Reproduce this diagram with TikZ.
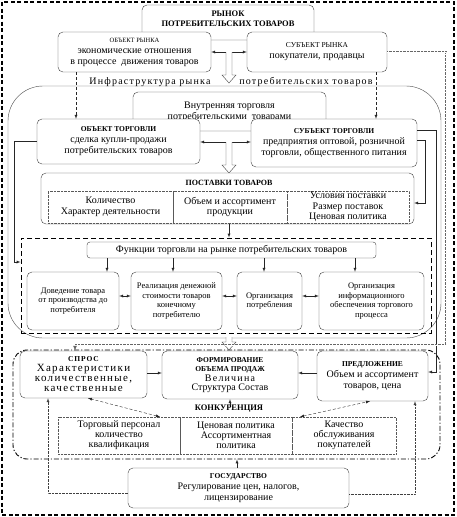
\documentclass[tikz,border=0pt]{standalone}
\usepackage{fontspec}
\setmainfont{Liberation Serif}
\newfontfamily\spacedfont[LetterSpace=12]{Liberation Serif}
\newcommand{\hd}[1]{{\bfseries\fontsize{7.5}{9}\selectfont #1}}

\tikzset {
  box style/.style = {
    draw=black!75,
    rounded corners=5pt,
    fill=white,
    align=center,
    inner sep=1pt,
    font=\fontsize{10}{11}\selectfont
  },
  func style/.style = {
    box style,
    font=\fontsize{8.5}{9.5}\selectfont
  },
  cell style/.style = {
    draw=black!65,
    densely dotted,
    align=center,
    inner sep=1pt,
    font=\fontsize{10}{10.5}\selectfont
  },
  head/.style = {font=\bfseries\fontsize{8}{9}\selectfont, align=center, inner sep=0pt},
  region style/.style = {draw=black!70, rounded corners=35pt},
  frame style/.style = {draw=black, line width=1pt, dash pattern=on 5pt off 3pt},
  ring style/.style = {draw=black, line width=0.9pt, rounded corners=14pt,
    dash pattern=on 5pt off 2pt on 1.2pt off 2pt},
  link/.style = {draw=black!85, -latex},
  both link/.style = {draw=black!85, latex-latex},
  dash link/.style = {draw=black!85, densely dashed, -latex},
  dash both/.style = {draw=black!85, densely dashed, latex-latex},
  dot link/.style = {draw=black!75, densely dotted, -latex},
  double link/.style = {draw=black!60, densely dotted, double=white, double distance=1pt, -latex},
  pics/hollow arrow/.style = {
    code = {
      \filldraw[draw=black!75, fill=white]
        (-3,0) -- (-3,#1-8) -- (-7,#1-8) -- (0,#1) -- (7,#1-8) -- (3,#1-8) -- (3,0);
    }
  }
}

\begin{document}
\begin{tikzpicture}[x=1pt, y=-1pt]

\useasboundingbox (0,0) rectangle (456,517);

% --- Outer frame ---
\draw[line width=1.3pt, dash pattern=on 4pt off 2.5pt] (2,2) rectangle (454,515);


% --- Market level ---
\node[box style, minimum width=172pt, minimum height=35pt] (market) at (228,22.5) {};
\node[head, font=\bfseries\fontsize{8.5}{10}\selectfont] (marketT) at (228,19)
  {РЫНОК\\ПОТРЕБИТЕЛЬСКИХ ТОВАРОВ};

\node[box style, minimum width=153pt, minimum height=40pt] (objM) at (134.5,52)
  {{\fontsize{6.5}{8}\selectfont ОБЪЕКТ РЫНКА}\\экономические отношения\\в процессе\ \ движения товаров};
\node[box style, minimum width=140pt, minimum height=40pt] (subjM) at (317,52)
  {{\fontsize{7.5}{9}\selectfont СУБЪЕКТ РЫНКА}\\покупатели, продавцы};

\draw[both link] (objM.east) -- (subjM.west);
\pic at (229,52) {hollow arrow=31};


% --- Infrastructure ---
\node[region style, minimum width=433pt, minimum height=252pt] (infra) at (224.5,212) {};
\node[font=\spacedfont\fontsize{10}{11}\selectfont, anchor=base, inner sep=0pt] (infraL) at (150,84)
  {Инфраструктура рынка};
\node[font=\spacedfont\fontsize{10}{11}\selectfont, anchor=base, inner sep=0pt] (infraR) at (306,84)
  {потребительских товаров};

\node[box style, minimum width=193pt, minimum height=39pt] (inner) at (229.5,111.5)
  {Внутренняя торговля\\потребительскими\ \ товарами};
\node[box style, minimum width=163pt, minimum height=45pt] (objT) at (118.5,141.5)
  {\hd{ОБЪЕКТ ТОРГОВЛИ}\\сделка купли-продажи\\потребительских товаров};
\node[box style, minimum width=166pt, minimum height=48pt] (subjT) at (334,143)
  {\hd{СУБЪЕКТ ТОРГОВЛИ}\\предприятия оптовой, розничной\\торговли, общественного питания};

\draw[dash link] (objM.south -| 76,0) -- (objT.north -| 76,0);
\draw[dash link] (subjM.south -| 376,0) -- (subjT.north -| 376,0);
\draw[both link] (objT.east |- 0,142) -- (subjT.west |- 0,142);
\pic at (229,142) {hollow arrow=31};


% --- Supply of goods ---
\node[box style, minimum width=373pt, minimum height=51pt] (supply) at (227.5,198.5) {};
\node[head] (supplyT) at (229,183) {ПОСТАВКИ ТОВАРОВ};
\node[cell style, minimum width=125pt, minimum height=32pt] (sup1) at (110.5,207)
  {Количество\\Характер деятельности};
\node[cell style, minimum width=114pt, minimum height=32pt] (sup2) at (230,207)
  {Объем и ассортимент\\продукции};
\node[cell style, minimum width=122pt, minimum height=32pt] (sup3) at (348,207)
  {Условия поставки\\Размер поставок\\Ценовая политика};


% --- Trade functions ---
\node[frame style, minimum width=410pt, minimum height=95pt] (funcs) at (226,285.5) {};
\node[box style, rounded corners=3pt, minimum width=289pt, minimum height=16pt] (fTitle) at (231.5,250)
  {Функции торговли на рынке потребительских товаров};

\node[func style, minimum width=92pt, minimum height=58pt] (f1) at (73,301)
  {Доведение товара\\от производства до\\потребителя};
\node[func style, minimum width=91pt, minimum height=58pt] (f2) at (176.5,301)
  {Реализация денежной\\стоимости товаров\\конечному\\потребителю};
\node[func style, minimum width=65pt, minimum height=58pt] (f3) at (269.5,301)
  {Организация\\потребления};
\node[func style, minimum width=105pt, minimum height=58pt] (f4) at (371.5,301)
  {Организация\\информационного\\обеспечения торгового\\процесса};

\foreach \fx/\fb in {107/f1, 173/f2, 264/f3, 355/f4}
  \draw[link] (\fx,0 |- fTitle.south) -- (\fx,0 |- \fb.north);
\draw[both link] (f1.east |- 0,296) -- (f2.west |- 0,296);
\draw[both link] (f2.east |- 0,296) -- (f3.west |- 0,296);
\draw[both link] (f3.east |- 0,296) -- (f4.west |- 0,296);

\draw[link] (supply.south -| 229,0) -- (funcs.north -| 229,0);
\draw[link] (subjT.east |- 0,140) -- (425,140) |- (supply.east |- 0,203);
\draw[link] (objT.west) -- (14,141.5) |- (funcs.west |- 0,262);


% --- Sales volume and competition ---
\node[ring style, minimum width=427pt, minimum height=109pt] (compReg) at (226.5,404.5) {};
\pic at (229,337) {hollow arrow=13};

\node[box style, minimum width=127pt, minimum height=47pt, font=\spacedfont\fontsize{11}{10}\selectfont] (demand) at (83.5,374.5)
  {\hd{СПРОС}\\Характеристики\\количественные,\\качественные};
\node[box style, minimum width=136pt, minimum height=48pt, font=\fontsize{10}{9.5}\selectfont] (form) at (230,375)
  {\hd{ФОРМИРОВАНИЕ}\\\hd{ОБЪЕМА ПРОДАЖ}\\{\spacedfont Величина}\\Структура Состав};
\node[box style, minimum width=111pt, minimum height=50pt] (offer) at (372.5,376)
  {\hd{ПРЕДЛОЖЕНИЕ}\\Объем и ассортимент\\товаров, цена};

\node[head, font=\bfseries\fontsize{8.5}{10}\selectfont] (compT) at (229,409) {КОНКУРЕНЦИЯ};
\node[cell style, font=\fontsize{10}{10}\selectfont, minimum width=122pt, minimum height=37pt] (comp1) at (119,435.5)
  {Торговый персонал\\количество\\квалификация};
\node[cell style, font=\fontsize{10}{10}\selectfont, minimum width=112pt, minimum height=37pt] (comp2) at (236,435.5)
  {Ценовая политика\\Ассортиментная\\политика};
\node[cell style, font=\fontsize{10}{10}\selectfont, minimum width=104pt, minimum height=37pt] (comp3) at (344,435.5)
  {Качество\\обслуживания\\покупателей};

\draw[link] (demand.east |- 0,373) -- (form.west |- 0,373);
\draw[link] (offer.west |- 0,373) -- (form.east |- 0,373);
\draw[link] (compT.north -| form.south) -- (form.south);
\draw[dash both] (comp1.north -| 160,0) -- (demand.south -| 88,0);
\draw[dash both] (comp3.north -| 300,0) -- (offer.south -| 370,0);

% links from the market subjects
\draw[link] (subjT.east |- 0,130) -- (436,130) |- (offer.east |- 0,372);
\draw[double link] (subjM.east) -- (446,52) |- (75,345) -- (demand.north -| 75,0);


% --- State ---
\node[box style, minimum width=221pt, minimum height=40pt] (state) at (238.5,488)
  {\hd{ГОСУДАРСТВО}\\Регулирование цен, налогов,\\лицензирование};

\draw[link] (state.north -| 237,0) -- (compReg.south -| 237,0);
\draw[dot link] (state.west |- 0,493) -| (demand.south -| 48,0);
\draw[dot link] (state.east |- 0,494) -| (offer.south -| 415,0);

\end{tikzpicture}
\end{document}
